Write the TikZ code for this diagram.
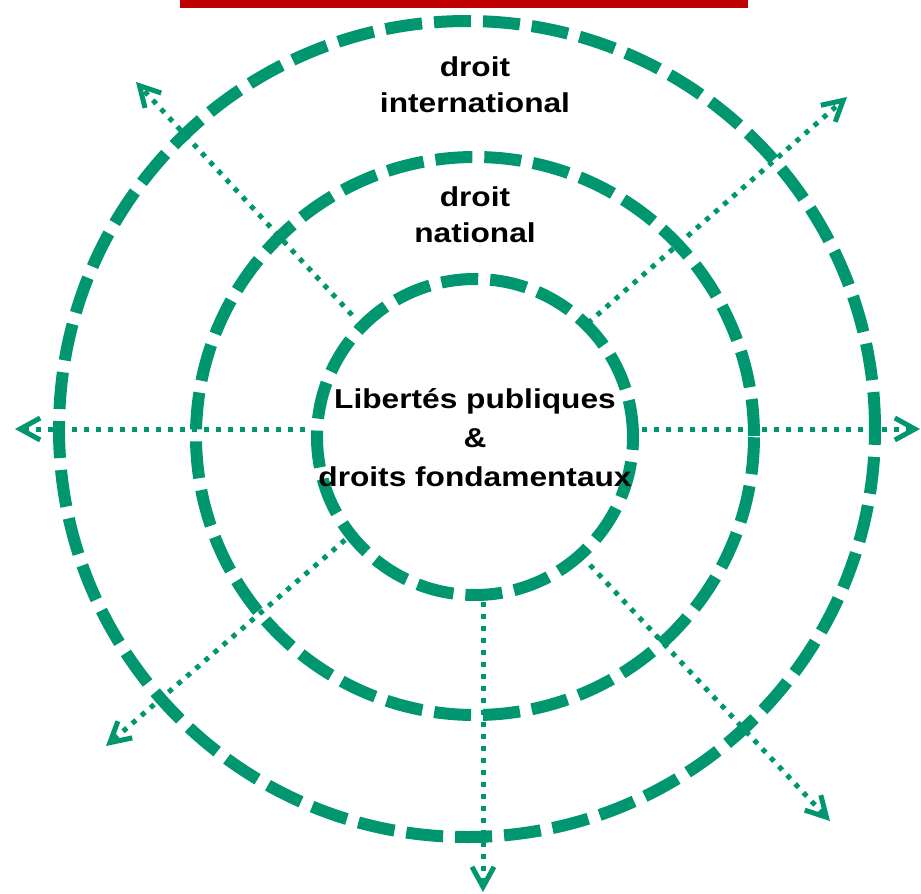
\documentclass[tikz,border=0pt]{standalone}
\usepackage{fontspec}
\setmainfont{Liberation Sans}[FakeStretch=1.16]
\usetikzlibrary{arrows.meta}
\definecolor{grn}{RGB}{0,150,112}
\definecolor{redline}{RGB}{192,0,0}
\begin{document}
\begin{tikzpicture}[x=1pt,y=-1pt,
  ring/.style={draw=grn, line width=12pt, dash pattern=on 37pt off 12pt, circle, inner sep=0pt},
  ray/.style={draw=grn, line width=5pt, dash pattern=on 5pt off 7pt,
    -{Straight Barb[length=20pt,width=22pt]}},
  lbl/.style={align=center, inner sep=0pt, text=black},
  bigfont/.style={font=\fontsize{27.3}{36}\selectfont\bfseries},
  midfont/.style={font=\fontsize{27.3}{39}\selectfont\bfseries}]
\useasboundingbox (0,0) rectangle (921,894);
% red bar
\coordinate (redA) at (180,4);
\coordinate (redB) at (748,4);
\draw[redline, line width=7pt] (redA) -- (redB);
% rings
\node[ring, minimum size=816pt] (outer) at (467,429) {};
\node[ring, minimum size=558pt] (middle) at (475,436) {};
\node[ring, minimum size=316pt] (inner) at (475,437) {};
% ray end points
\coordinate (sL) at (305,429);  \coordinate (tL) at (15,429);
\coordinate (sR) at (642,429);  \coordinate (tR) at (920,429);
\coordinate (sB) at (483,602);  \coordinate (tB) at (483,892);
\coordinate (sTL) at (352,315); \coordinate (tTL) at (136,82);
\coordinate (sTR) at (588,323); \coordinate (tTR) at (847,97);
\coordinate (sBL) at (345,540); \coordinate (tBL) at (106,746);
\coordinate (sBR) at (590,565); \coordinate (tBR) at (830,821);
\foreach \r in {L,R,B,TL,TR,BL,BR}{\draw[ray] (s\r) -- (t\r);}
% labels
\node[lbl, bigfont] (intl) at (475,85) {droit\\international};
\node[lbl, bigfont] (natl) at (475,215) {droit\\national};
\node[lbl, midfont] (libs) at (475,437.5) {Libertés publiques\\\&\\droits fondamentaux};
\end{tikzpicture}
\end{document}
